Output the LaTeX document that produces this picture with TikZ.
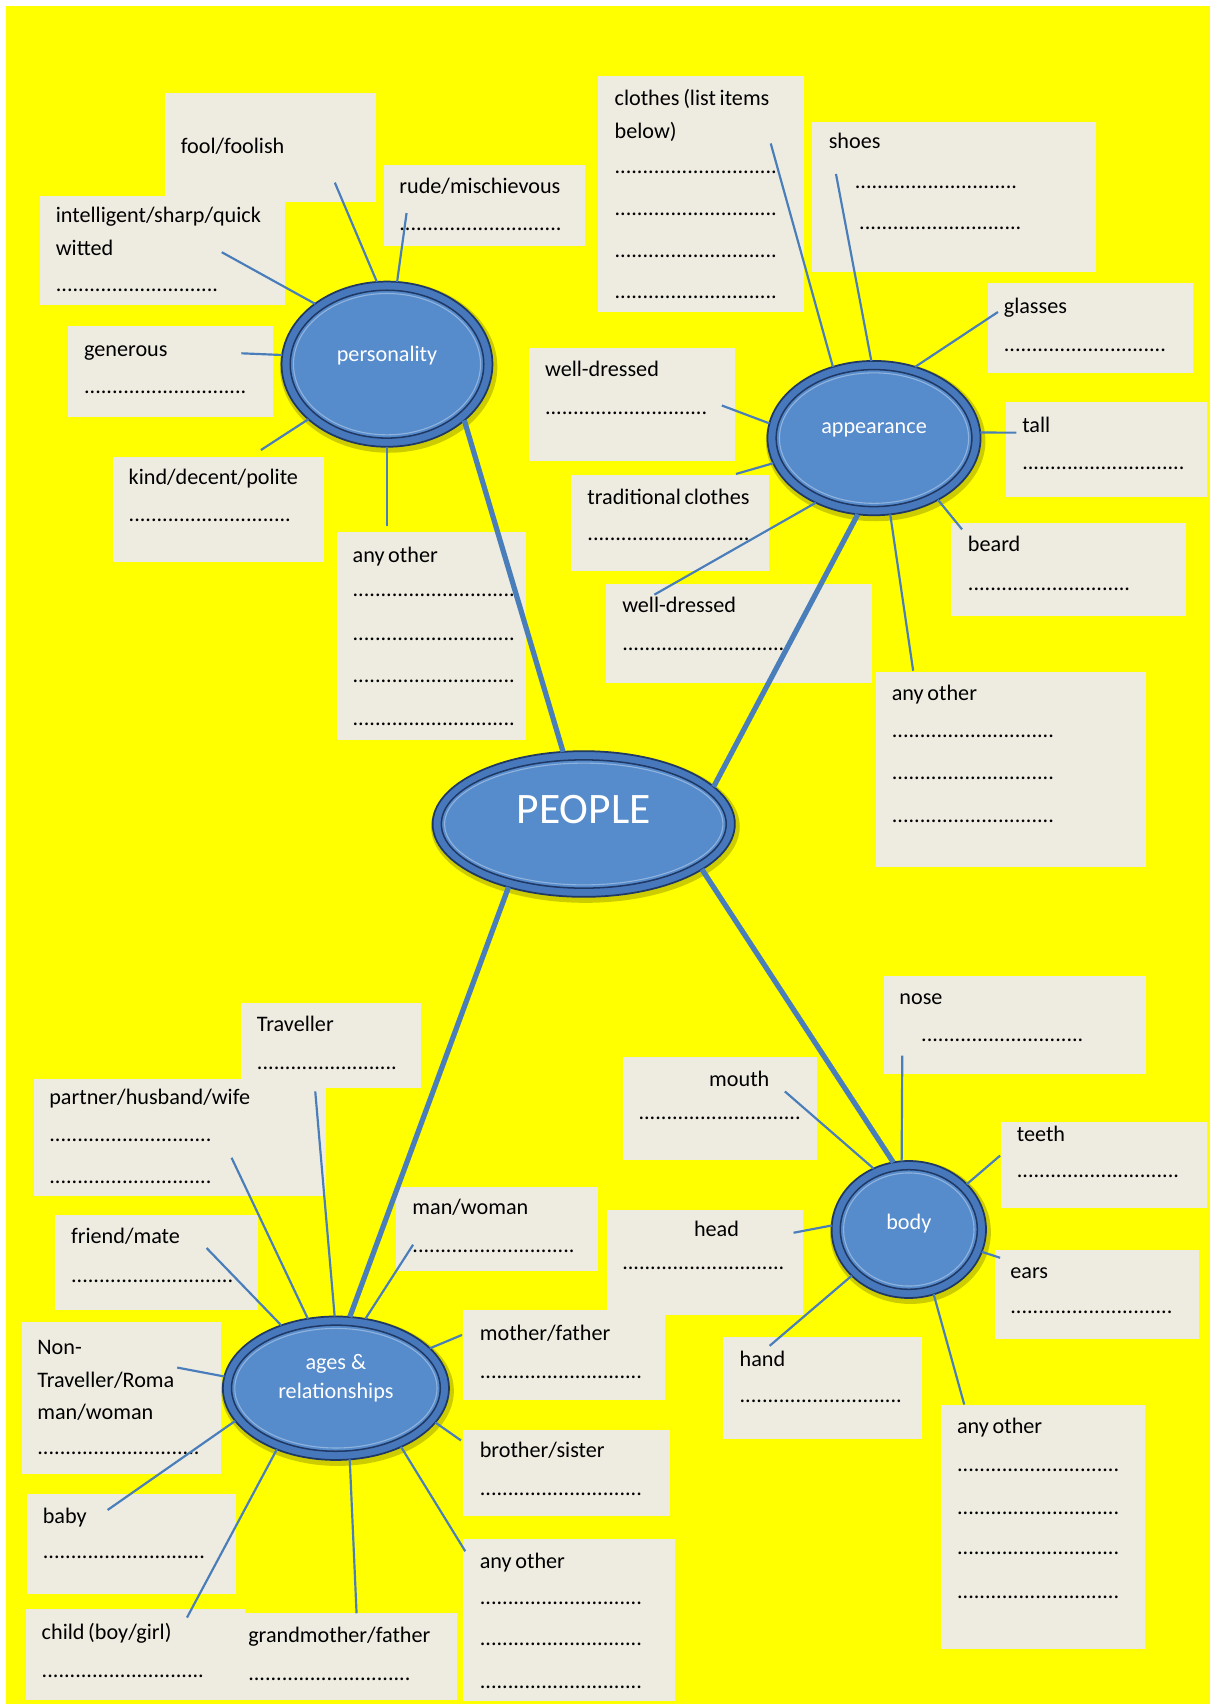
\documentclass[tikz,border=0pt]{standalone}
\usepackage{fontspec}
\setmainfont{Carlito}
\usepackage{pgf,tikz}
\usetikzlibrary{shapes.geometric}

\definecolor{sheet}{RGB}{255,255,0}
\definecolor{cardfill}{HTML}{EEECE1}
\definecolor{twig}{HTML}{4A7EBB}
\definecolor{hubring}{RGB}{72,120,188}
\definecolor{hubfill}{RGB}{86,139,204}
\definecolor{hubdark}{RGB}{31,56,100}

\newcommand{\blank}{.............................}
\newcommand{\blankshort}{.........................}

\tikzset{
  cardbox/.style={fill=cardfill},
  cardtext/.style={anchor=base west, inner sep=0pt, text width=6cm, align=left,
    font=\fontsize{10.2}{15}\selectfont,
    execute at begin node={\spaceskip=1.7pt plus 0.5pt\relax}},
  twigline/.style={draw=twig, line width=1pt},
  trunk/.style={draw=twig, line width=2.4pt},
  hub/.style={ellipse, inner sep=0pt, outer sep=0pt, fill=hubring, draw=hubdark, line width=0.8pt},
  hubface/.style={ellipse, inner sep=0pt, fill=hubfill, draw=hubdark, line width=0.7pt},
  hubshine/.style={ellipse, inner sep=0pt, draw=white, draw opacity=0.35, line width=0.5pt},
  hubshadow/.style={ellipse, inner sep=0pt, fill=black, fill opacity=0.2},
  hubtext/.style={text=white, align=center, inner sep=0pt, font=\fontsize{10.2}{13.5}\selectfont}
}

\begin{document}
\begin{tikzpicture}[x=0.5pt,y=-0.5pt]
\useasboundingbox (0,0) rectangle (1113,1567.5);
\fill [white] (0,0) rectangle (1113,1567.5);
\fill [sheet] (5.5,5.5) rectangle (1113,1567.5);

%personality
\fill [cardbox] (152,86) rectangle (346,186);
\node [cardtext] (fool) at (166,141) {fool/foolish};
\fill [cardbox] (353,152) rectangle (538,226);
\node [cardtext] (rude) at (367,178) {rude/mischievous\\[2pt]\blank};
\fill [cardbox] (37,180) rectangle (262,281);
\node [cardtext] (clever) at (51,205) {intelligent/sharp/quick\\witted\\[1.5pt]\blank};
\fill [cardbox] (63,300) rectangle (251,384);
\node [cardtext] (generous) at (77,328) {generous\\[2pt]\blank};
\fill [cardbox] (104,420) rectangle (298,517);
\node [cardtext] (kind) at (118,446) {kind/decent/polite\\[2pt]\blank};
\fill [cardbox] (310,489) rectangle (484,681);
\node [cardtext] (pers-other) at (324,517) {any other\\[1pt]\blank\\[5pt]\blank\\[4.5pt]\blank\\[4.5pt]\blank};

%appearance
\fill [cardbox] (550,70) rectangle (740,287);
\node [cardtext] (clothes) at (565,97) {clothes (list items\\below)\\[1.5pt]\blank\\[4pt]\blank\\[4.5pt]\blank\\[4pt]\blank};
\fill [cardbox] (747,112) rectangle (1008,250);
\node [cardtext] (shoes) at (762,137) {shoes\\[3pt]\hspace*{12pt}\blank\\[4pt]\hspace*{14pt}\blank};
\fill [cardbox] (909,260) rectangle (1097,343);
\node [cardtext] (glasses) at (923,288) {glasses\\[2.5pt]\blank};
\fill [cardbox] (487,320) rectangle (676,424);
\node [cardtext] (smart-a) at (501,346) {well-dressed\\[2.5pt]\blank};
\fill [cardbox] (925,370) rectangle (1110,457);
\node [cardtext] (tall) at (940,398) {tall\\[2pt]\blank};
\fill [cardbox] (525,437) rectangle (707,525);
\node [cardtext] (trad) at (540,464) {traditional clothes\\[1.5pt]\blank};
\fill [cardbox] (875,481) rectangle (1091,567);
\node [cardtext] (beard) at (890,507) {beard\\[3pt]\blank};
\fill [cardbox] (557,537) rectangle (802,628);
\node [cardtext] (smart-b) at (572,563) {well-dressed\\[2.5pt]\blank};
\fill [cardbox] (806,618) rectangle (1054,798);
\node [cardtext] (app-other) at (820,644) {any other\\[2pt]\blank\\[4.5pt]\blank\\[5pt]\blank};

%ages and relationships
\fill [cardbox] (222,923) rectangle (387,1001);
\node [cardtext] (traveller) at (236,949) {Traveller\\[2.5pt]\blankshort};
\fill [cardbox] (31,993) rectangle (300,1100);
\node [cardtext] (partner) at (45,1016) {partner/husband/wife\\[2pt]\blank\\[4.5pt]\blank};
\fill [cardbox] (51,1118) rectangle (237,1205);
\node [cardtext] (friend) at (65,1144) {friend/mate\\[3pt]\blank};
\fill [cardbox] (364,1092) rectangle (550,1169);
\node [cardtext] (manwoman) at (379,1117) {man/woman\\[2.5pt]\blank};
\fill [cardbox] (426,1205) rectangle (612,1288);
\node [cardtext] (parent) at (441,1233) {mother/father\\[2.5pt]\blank};
\fill [cardbox] (20,1216) rectangle (203,1356);
\node [cardtext] (nontrav) at (34,1246) {Non-\\Traveller/Roma\\man/woman\\[1pt]\blank};
\fill [cardbox] (426,1315) rectangle (616,1395);
\node [cardtext] (sibling) at (441,1341) {brother/sister\\[2.5pt]\blank};
\fill [cardbox] (25,1374) rectangle (217,1466);
\node [cardtext] (baby) at (39,1401) {baby\\[1.5pt]\blank};
\fill [cardbox] (426,1416) rectangle (621,1565);
\node [cardtext] (ages-other) at (441,1443) {any other\\[1.5pt]\blank\\[4pt]\blank\\[4.5pt]\blank};
\fill [cardbox] (24,1480) rectangle (225,1564);
\node [cardtext] (child) at (38,1508) {child (boy/girl)\\[2.5pt]\blank};
\fill [cardbox] (225,1484) rectangle (420,1564);
\node [cardtext] (grand) at (228,1511) {grandmother/father\\[2.5pt]\blank};

%body
\fill [cardbox] (813,898) rectangle (1054,988);
\node [cardtext] (nose) at (827,924) {nose\\[2pt]\hspace*{10pt}\blank};
\fill [cardbox] (573,972) rectangle (752,1067);
\node [cardtext] (mouth) at (587,999) {\hspace*{32.5pt}mouth\\[0.5pt]\blank};
\fill [cardbox] (921,1032) rectangle (1110,1111);
\node [cardtext] (teeth) at (935,1050) {teeth\\[1.5pt]\blank};
\fill [cardbox] (558,1113) rectangle (739,1210);
\node [cardtext] (head) at (572,1137) {\hspace*{33pt}head\\[0.5pt]\blank};
\fill [cardbox] (915,1150) rectangle (1103,1232);
\node [cardtext] (ears) at (929,1176) {ears\\[1pt]\blank};
\fill [cardbox] (665,1230) rectangle (848,1324);
\node [cardtext] (hand) at (680,1257) {hand\\[1.5pt]\blank};
\fill [cardbox] (866,1292) rectangle (1053,1517);
\node [cardtext] (body-other) at (880,1319) {any other\\[2.5pt]\blank\\[4.5pt]\blank\\[3.5pt]\blank\\[5pt]\blank};

%hubs
\foreach \n/\x/\y/\a/\b in {pers/356/335/97/76, app/804/403/98/71, people/537/758/139/67, ages/309/1277/104/66, body/836/1131/71/63}
{
  \node [hubshadow, minimum width=\a*1pt+3pt, minimum height=\b*1pt+3pt] (\n-s) at (\x+1.5,\y+2.5) {};
  \node [hub, minimum width=\a*1pt, minimum height=\b*1pt] (\n) at (\x,\y) {};
  \node [hubface, minimum width=\a*1pt-8pt, minimum height=\b*1pt-8pt] (\n-f) at (\x,\y) {};
  \node [hubshine, minimum width=\a*1pt-11pt, minimum height=\b*1pt-11pt] (\n-h) at (\x,\y) {};
}

%free ends
\coordinate (fool-end) at (308,168);
\coordinate (rude-end) at (374,196);
\coordinate (clever-end) at (204,232);
\coordinate (generous-end) at (222,325);
\coordinate (kind-end) at (240,414);
\coordinate (pers-other-end) at (356,484);
\coordinate (clothes-end) at (709,132);
\coordinate (shoes-end) at (769,160);
\coordinate (glasses-end) at (918,287);
\coordinate (smart-a-end) at (664,373);
\coordinate (tall-end) at (935,398);
\coordinate (trad-end) at (677,436);
\coordinate (beard-end) at (885,487);
\coordinate (smart-b-end) at (602,547);
\coordinate (app-other-end) at (840,617);
\coordinate (traveller-end) at (290,1004);
\coordinate (partner-end) at (213,1065);
\coordinate (friend-end) at (190,1148);
\coordinate (manwoman-end) at (380,1145);
\coordinate (parent-end) at (425,1228);
\coordinate (nontrav-end) at (163,1258);
\coordinate (sibling-end) at (424,1325);
\coordinate (baby-end) at (99,1389);
\coordinate (child-end) at (172,1488);
\coordinate (grand-end) at (328,1484);
\coordinate (ages-other-end) at (428,1427);
\coordinate (nose-end) at (830,971);
\coordinate (mouth-end) at (722,1004);
\coordinate (teeth-end) at (920,1063);
\coordinate (head-end) at (730,1134);
\coordinate (ears-end) at (920,1157);
\coordinate (hand-end) at (708,1238);
\coordinate (body-other-end) at (887,1292);

\draw [twigline] (fool-end) -- (pers.97);
\draw [twigline] (rude-end) -- (pers.83);
\draw [twigline] (clever-end) -- (pers.140);
\draw [twigline] (generous-end) -- (pers.175);
\draw [twigline] (kind-end) -- (pers.215);
\draw [twigline] (pers-other-end) -- (pers.270);

\draw [twigline] (clothes-end) -- (app.120);
\draw [twigline] (shoes-end) -- (app.92);
\draw [twigline] (glasses-end) -- (app.60);
\draw [twigline] (smart-a-end) -- (app.172);
\draw [twigline] (tall-end) -- (app.3);
\draw [twigline] (trad-end) -- (app.194);
\draw [twigline] (beard-end) -- (app.316);
\draw [twigline] (smart-b-end) -- (app.228);
\draw [twigline] (app-other-end) -- (app.282);

\draw [twigline] (traveller-end) -- (ages.91);
\draw [twigline] (partner-end) -- (ages.112);
\draw [twigline] (friend-end) -- (ages.131);
\draw [twigline] (manwoman-end) -- (ages.67);
\draw [twigline] (parent-end) -- (ages.23);
\draw [twigline] (nontrav-end) -- (ages.174);
\draw [twigline] (sibling-end) -- (ages.341);
\draw [twigline] (baby-end) -- (ages.198);
\draw [twigline] (child-end) -- (ages.226);
\draw [twigline] (grand-end) -- (ages.281);
\draw [twigline] (ages-other-end) -- (ages.318);

\draw [twigline] (nose-end) -- (body.96);
\draw [twigline] (mouth-end) -- (body.120);
\draw [twigline] (teeth-end) -- (body.38);
\draw [twigline] (head-end) -- (body.177);
\draw [twigline] (ears-end) -- (body.343);
\draw [twigline] (hand-end) -- (body.219);
\draw [twigline] (body-other-end) -- (body.291);

\draw [trunk] (people.106) -- (pers.324);
\draw [trunk] (people.16) -- (app.258);
\draw [trunk] (people.220) -- (ages.79);
\draw [trunk] (people.339) -- (body.103);

\node [hubtext] (pers-t) at (356,327) {personality};
\node [hubtext] (app-t) at (804,395) {appearance};
\node [hubtext, font=\fontsize{20}{24}\selectfont] (people-t) at (537,745) {PEOPLE};
\node [hubtext] (ages-t) at (309,1268) {ages \&\\relationships};
\node [hubtext] (body-t) at (836,1126) {body};
\end{tikzpicture}
\end{document}
